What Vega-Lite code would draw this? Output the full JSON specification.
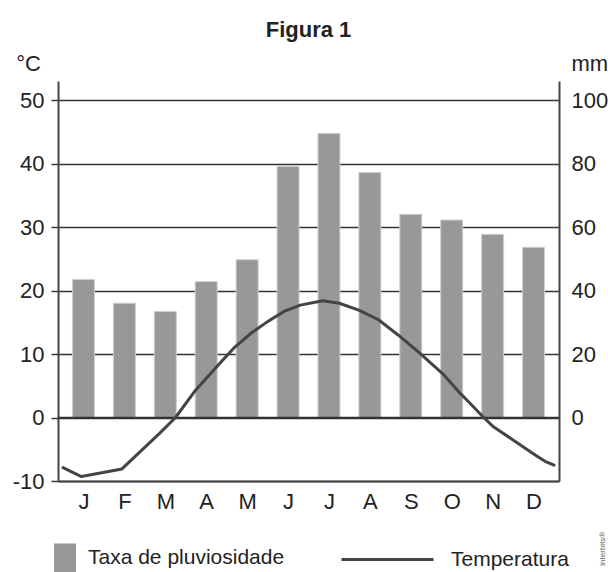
{
  "$schema": "https://vega.github.io/schema/vega-lite/v6.json",
  "width": 501,
  "height": 400,
  "autosize": {"type": "none"},
  "padding": {"left": 58, "top": 81, "right": 49, "bottom": 91},
  "background": "white",
  "title": {"text": "Figura 1", "fontSize": 22, "fontWeight": "bold", "font": "Liberation Sans", "color": "#222", "anchor": "middle", "frame": "group", "offset": 10},
  "config": {
    "view": {"stroke": null},
    "font": "Liberation Sans",
    "axis": {"labelFont": "Liberation Sans", "titleFont": "Liberation Sans"},
    "legend": {"labelFont": "Liberation Sans"}
  },
  "datasets": {
    "rain": [
      {"m": "J", "t": 0.5, "mm": 43.5, "s": "Taxa de pluviosidade"},
      {"m": "F", "t": 1.5, "mm": 36.0, "s": "Taxa de pluviosidade"},
      {"m": "M", "t": 2.5, "mm": 33.4, "s": "Taxa de pluviosidade"},
      {"m": "A", "t": 3.5, "mm": 42.8, "s": "Taxa de pluviosidade"},
      {"m": "M", "t": 4.5, "mm": 49.7, "s": "Taxa de pluviosidade"},
      {"m": "J", "t": 5.5, "mm": 79.1, "s": "Taxa de pluviosidade"},
      {"m": "J", "t": 6.5, "mm": 89.5, "s": "Taxa de pluviosidade"},
      {"m": "A", "t": 7.5, "mm": 77.2, "s": "Taxa de pluviosidade"},
      {"m": "S", "t": 8.5, "mm": 64.0, "s": "Taxa de pluviosidade"},
      {"m": "O", "t": 9.5, "mm": 62.2, "s": "Taxa de pluviosidade"},
      {"m": "N", "t": 10.5, "mm": 57.7, "s": "Taxa de pluviosidade"},
      {"m": "D", "t": 11.5, "mm": 53.6, "s": "Taxa de pluviosidade"}
    ],
    "temp": [
      {"t": 0.0, "temp": -7.9, "s": "Temperatura"},
      {"t": 0.45, "temp": -9.3, "s": "Temperatura"},
      {"t": 1.44, "temp": -8.1, "s": "Temperatura"},
      {"t": 2.36, "temp": -2.5, "s": "Temperatura"},
      {"t": 2.75, "temp": 0.0, "s": "Temperatura"},
      {"t": 3.24, "temp": 4.3, "s": "Temperatura"},
      {"t": 3.8, "temp": 8.3, "s": "Temperatura"},
      {"t": 4.2, "temp": 11.1, "s": "Temperatura"},
      {"t": 4.6, "temp": 13.3, "s": "Temperatura"},
      {"t": 5.0, "temp": 15.1, "s": "Temperatura"},
      {"t": 5.4, "temp": 16.7, "s": "Temperatura"},
      {"t": 5.8, "temp": 17.7, "s": "Temperatura"},
      {"t": 6.35, "temp": 18.4, "s": "Temperatura"},
      {"t": 6.75, "temp": 18.0, "s": "Temperatura"},
      {"t": 7.23, "temp": 16.9, "s": "Temperatura"},
      {"t": 7.71, "temp": 15.4, "s": "Temperatura"},
      {"t": 8.19, "temp": 13.0, "s": "Temperatura"},
      {"t": 8.67, "temp": 10.4, "s": "Temperatura"},
      {"t": 9.31, "temp": 6.7, "s": "Temperatura"},
      {"t": 9.71, "temp": 3.8, "s": "Temperatura"},
      {"t": 10.03, "temp": 1.7, "s": "Temperatura"},
      {"t": 10.28, "temp": 0.0, "s": "Temperatura"},
      {"t": 10.51, "temp": -1.4, "s": "Temperatura"},
      {"t": 10.99, "temp": -3.5, "s": "Temperatura"},
      {"t": 11.54, "temp": -5.9, "s": "Temperatura"},
      {"t": 11.78, "temp": -6.9, "s": "Temperatura"},
      {"t": 12.0, "temp": -7.5, "s": "Temperatura"}
    ]
  },
  "layer": [
    {
      "data": {"name": "temp"},
      "mark": {"type": "line", "strokeWidth": 0, "opacity": 0},
      "encoding": {
        "x": {"field": "t", "type": "quantitative", "scale": {"domain": [0, 12], "nice": false, "zero": false},
          "axis": {"values": [0.5, 1.5, 2.5, 3.5, 4.5, 5.5, 6.5, 7.5, 8.5, 9.5, 10.5, 11.5],
            "labelExpr": "['J','F','M','A','M','J','J','A','S','O','N','D'][floor(datum.value)]",
            "ticks": false, "grid": false, "domain": true, "domainColor": "#444", "domainWidth": 2,
            "labelFontSize": 22, "labelColor": "#222", "labelPadding": 10, "labelFlush": false, "title": null}},
        "y": {"field": "temp", "type": "quantitative", "scale": {"domain": [-10, 53], "nice": false, "zero": false},
          "axis": {"orient": "left", "values": [-10, 0, 10, 20, 30, 40, 50], "grid": true, "gridColor": "#333", "gridWidth": 1.5,
            "domainColor": "#444", "domainWidth": 2, "tickColor": "#333", "tickWidth": 1.5, "tickSize": 7, "labelPadding": 7,
            "labelFontSize": 22, "labelColor": "#222", "labelFlush": false, "labelExpr": "'' + datum.value",
            "title": "°C", "titleAngle": 0, "titleX": -30, "titleY": -11, "titleAlign": "center", "titleBaseline": "alphabetic",
            "titleFontSize": 22, "titleFontWeight": "normal", "titleColor": "#222"}}
      }
    },
    {
      "data": {"name": "rain"},
      "mark": {"type": "bar", "width": 22, "stroke": "#cfcfcf", "strokeWidth": 1},
      "encoding": {
        "x": {"field": "t", "type": "quantitative", "scale": {"domain": [0, 12], "nice": false, "zero": false}},
        "y": {"field": "mm", "type": "quantitative", "scale": {"domain": [-20, 106], "nice": false, "zero": false},
          "axis": {"orient": "right", "values": [0, 20, 40, 60, 80, 100], "grid": false, "ticks": false, "tickSize": 0, "labelPadding": 12,
            "domainColor": "#444", "domainWidth": 2, "labelFontSize": 22, "labelColor": "#222", "labelFlush": false,
            "title": "mm", "titleAngle": 0, "titleX": 12, "titleY": -11, "titleAlign": "left", "titleBaseline": "alphabetic",
            "titleFontSize": 22, "titleFontWeight": "normal", "titleColor": "#222"}},
        "y2": {"datum": 0},
        "fill": {"field": "s", "type": "nominal", "scale": {"range": ["#97989a"]},
          "legend": {"orient": "none", "legendX": -4, "legendY": 466, "title": null, "padding": 0,
            "symbolType": "M-1,-1.32H1V1.32H-1Z", "symbolSize": 484, "symbolStrokeWidth": 0, "symbolOpacity": 1,
            "labelFontSize": 21, "labelColor": "#222", "labelOffset": 12, "labelLimit": 400}}
      }
    },
    {
      "data": {"values": [{}]},
      "mark": {"type": "rule", "color": "#333", "strokeWidth": 1.5},
      "encoding": {
        "y": {"datum": 0, "type": "quantitative", "scale": {"domain": [-10, 53], "nice": false, "zero": false}, "axis": null}
      }
    },
    {
      "data": {"name": "temp"},
      "mark": {"type": "line", "strokeWidth": 3, "strokeJoin": "round", "strokeCap": "round"},
      "encoding": {
        "x": {"field": "t", "type": "quantitative", "scale": {"domain": [0, 12], "nice": false, "zero": false}},
        "y": {"field": "temp", "type": "quantitative", "scale": {"domain": [-10, 53], "nice": false, "zero": false}, "axis": null},
        "stroke": {"field": "s", "type": "nominal", "scale": {"range": ["#444444"]},
          "legend": {"orient": "none", "legendX": 282, "legendY": 431, "title": null, "padding": 0,
            "symbolType": "stroke", "symbolSize": 8464, "symbolStrokeWidth": 3,
            "labelFontSize": 21, "labelColor": "#222", "labelOffset": 16, "labelLimit": 400}}
      }
    },
    {
      "data": {"values": [{"t": 13.2, "temp": -20.7, "txt": "Interbits®"}]},
      "mark": {"type": "text", "angle": 270, "fontSize": 8, "color": "#666", "clip": false},
      "encoding": {
        "x": {"field": "t", "type": "quantitative", "scale": {"domain": [0, 12], "nice": false, "zero": false}},
        "y": {"field": "temp", "type": "quantitative", "scale": {"domain": [-10, 53], "nice": false, "zero": false}, "axis": null},
        "text": {"field": "txt"}
      }
    }
  ],
  "resolve": {"scale": {"y": "independent", "stroke": "independent", "fill": "independent"}}
}
